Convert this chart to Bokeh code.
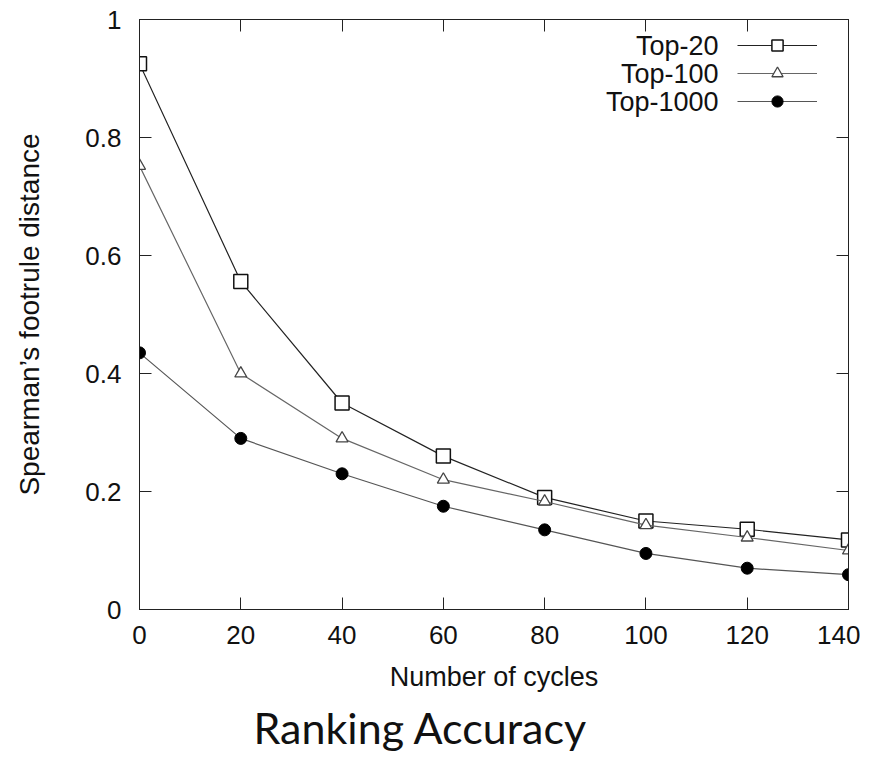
from bokeh.plotting import figure
from bokeh.models import (LinearAxis, FixedTicker, Title, Legend, LegendItem, Range1d, Label)
from bokeh.embed import file_html
from bokeh.resources import INLINE

cycles = [0, 20, 40, 60, 80, 100, 120, 140]
top20 = [0.925, 0.556, 0.350, 0.260, 0.190, 0.150, 0.136, 0.118]
top100 = [0.752, 0.400, 0.290, 0.220, 0.183, 0.143, 0.122, 0.100]
top1000 = [0.435, 0.290, 0.230, 0.175, 0.135, 0.095, 0.070, 0.059]
series_names = ["Top-20", "Top-100", "Top-1000"]
x_ticks = [0, 20, 40, 60, 80, 100, 120, 140]
y_ticks = [0, 0.2, 0.4, 0.6, 0.8, 1.0]
y_tick_labels = ["0", "0.2", "0.4", "0.6", "0.8", "1"]

FONT = "Liberation Sans"
FW, FH = 709, 590

p = figure(output_backend="svg", toolbar_location=None,
           x_range=Range1d(0, 140), y_range=Range1d(0, 1),
           x_axis_label="Number of cycles", y_axis_label="Spearman\u2019s footrule distance")
p.frame_width = FW
p.frame_height = FH
p.min_border_left = 139
p.min_border_top = 19
p.min_border_right = 12
p.min_border_bottom = 0
p.grid.visible = False
p.outline_line_color = "#222222"

for ax in (p.xaxis[0], p.yaxis[0]):
    ax.major_tick_in = 12
    ax.major_tick_out = 0
    ax.minor_tick_line_color = None
    ax.axis_line_color = "#222222"
    ax.major_tick_line_color = "#222222"
    ax.major_label_text_font = FONT
    ax.major_label_text_font_size = "26px"
    ax.major_label_text_color = "#111111"
    ax.axis_label_text_font = FONT
    ax.axis_label_text_font_style = "normal"
    ax.axis_label_text_color = "#111111"

p.xaxis[0].axis_label_text_font_size = "27px"
p.yaxis[0].axis_label_text_font_size = "28px"
p.xaxis[0].ticker = FixedTicker(ticks=x_ticks)
p.yaxis[0].ticker = FixedTicker(ticks=y_ticks)
p.yaxis[0].major_label_overrides = {t: l for t, l in zip(y_ticks, y_tick_labels)}
p.xaxis[0].major_label_standoff = 16
p.yaxis[0].major_label_standoff = 18
p.xaxis[0].axis_label_standoff = 15
p.yaxis[0].axis_label_standoff = 37

for ticks, side in ((x_ticks, "above"), (y_ticks, "right")):
    ax = LinearAxis(ticker=FixedTicker(ticks=ticks), major_label_text_color=None,
                    major_tick_in=12, major_tick_out=0, minor_tick_line_color=None,
                    axis_line_color="#222222", major_tick_line_color="#222222",
                    major_label_standoff=0)
    p.add_layout(ax, side)

l1 = p.line(cycles, top20, line_color="#222222", line_width=1.2)
m1 = p.scatter(cycles, top20, marker="square", size=14, fill_color="white",
               line_color="#111111", line_width=1.5)
l2 = p.line(cycles, top100, line_color="#666666", line_width=1.2)
m2 = p.scatter(cycles, top100, marker="triangle", size=12, fill_color="white",
               line_color="#444444", line_width=1.3)
l3 = p.line(cycles, top1000, line_color="#555555", line_width=1.2)
m3 = p.scatter(cycles, top1000, marker="circle", size=12, fill_color="black",
               line_color="black")

# legend: glyph samples only (labels drawn separately, right-aligned to their left)
ROW = 28
legend = Legend(items=[LegendItem(label="", renderers=[l1, m1]),
                       LegendItem(label="", renderers=[l2, m2]),
                       LegendItem(label="", renderers=[l3, m3])],
                location=(FW - 31 - 80, FH - 12 - 3 * ROW),
                border_line_color=None, background_fill_alpha=0,
                label_standoff=0, label_width=0, label_height=ROW,
                glyph_width=80, glyph_height=ROW, spacing=0, padding=0, margin=0)
p.add_layout(legend)

for i, name in enumerate(series_names):
    p.add_layout(Label(x=FW - 31 - 80 - 19, y=FH - 12 - ROW * i - ROW / 2,
                       x_units="screen", y_units="screen", text=name,
                       text_align="right", text_baseline="middle",
                       text_font=FONT, text_font_size="27px", text_color="#111111"))

title = Title(text="Ranking Accuracy", text_font="Lato", text_font_size="43px",
              text_font_style="normal", align="left", offset=114,
              text_color="#111111", standoff=10)
p.add_layout(title, "below")

open("out.html", "w").write(file_html(p, INLINE))
